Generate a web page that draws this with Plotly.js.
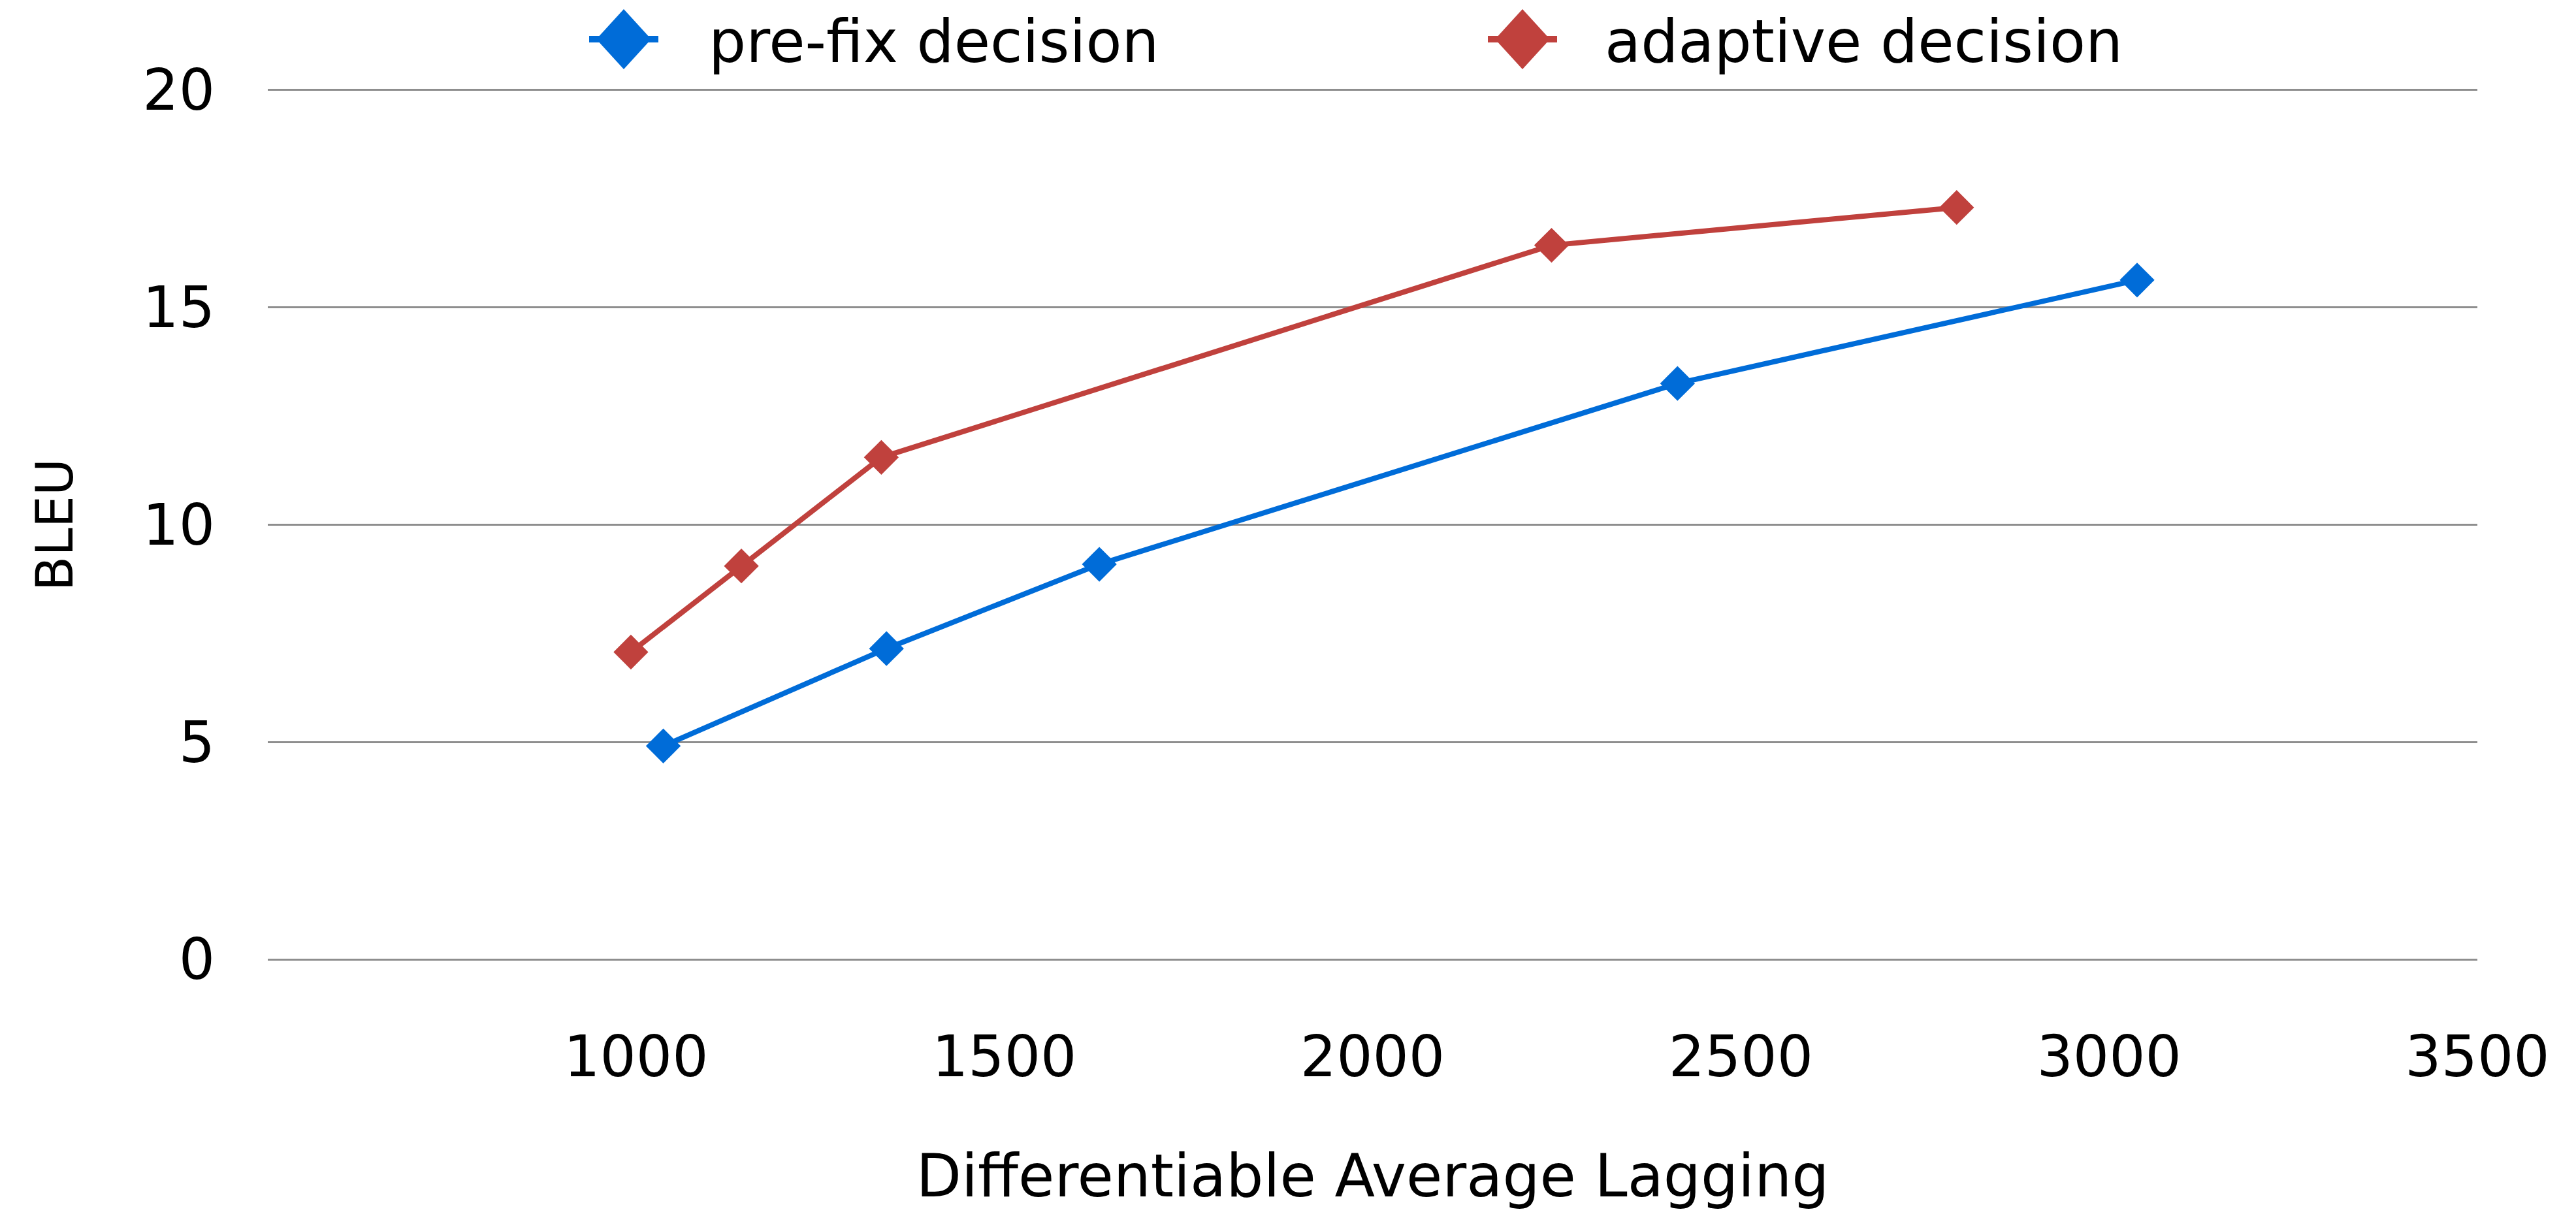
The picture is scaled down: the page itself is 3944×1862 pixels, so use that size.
<!DOCTYPE html>
<html>
<head>
<meta charset="utf-8">
<script src="https://cdn.plot.ly/plotly-3.0.1.min.js"></script>
<style>html,body{margin:0;padding:0;background:#fff;}#chart{width:3944px;height:1862px;}</style>
</head>
<body>
<div id="chart"></div>
<script>
// Data
const prefixDAL  = [1037, 1340, 1629, 2414, 3038];
const prefixBLEU = [4.91, 7.15, 9.09, 13.25, 15.63];
const adaptiveDAL  = [993, 1143, 1333, 2243, 2793];
const adaptiveBLEU = [7.07, 9.05, 11.55, 16.43, 17.30];
const seriesNames = ["pre-fix decision", "adaptive decision"];
const seriesColors = ["#006CD8", "#C0413D"];
const xTickVals = [1000, 1500, 2000, 2500, 3000, 3500];
const yTickVals = [0, 5, 10, 15, 20];

const FONT = "DejaVu Sans";
const W = 3944, H = 1862;
const M = {l: 410, r: 151, t: 135, b: 390};
const PW = W - M.l - M.r, PH = H - M.t - M.b;
const px2x = px => (px - M.l) / PW;
const py2y = py => (H - M.b - py) / PH;

const traces = [
  {x: prefixDAL, y: prefixBLEU, name: seriesNames[0], type: "scatter", mode: "lines+markers",
   line: {color: seriesColors[0], width: 8}, marker: {symbol: "diamond", size: 41, color: seriesColors[0]}},
  {x: adaptiveDAL, y: adaptiveBLEU, name: seriesNames[1], type: "scatter", mode: "lines+markers",
   line: {color: seriesColors[1], width: 8}, marker: {symbol: "diamond", size: 41, color: seriesColors[1]}}
];

// Custom legend (large diamond symbols like the reference)
const legendCenters = [955, 2331];
const legendTextX = [1083, 2455];
const legendY = 60;
const shapes = [], annotations = [];
seriesNames.forEach((name, i) => {
  const cx = legendCenters[i];
  shapes.push({type: "line", xref: "paper", yref: "paper",
    x0: px2x(cx - 53), x1: px2x(cx + 53), y0: py2y(legendY), y1: py2y(legendY),
    line: {color: seriesColors[i], width: 10}});
  shapes.push({type: "path", xref: "paper", yref: "paper",
    path: `M${px2x(cx - 42)},${py2y(legendY)} L${px2x(cx)},${py2y(legendY - 46)} L${px2x(cx + 42)},${py2y(legendY)} L${px2x(cx)},${py2y(legendY + 46)} Z`,
    fillcolor: seriesColors[i], line: {width: 0}});
  annotations.push({xref: "paper", yref: "paper", x: px2x(legendTextX[i]), y: py2y(legendY + 4),
    xanchor: "left", yanchor: "middle", showarrow: false, text: name,
    font: {family: FONT, size: 90, color: "#000"}});
});

const layout = {
  width: W, height: H,
  paper_bgcolor: "#fff", plot_bgcolor: "#fff",
  margin: {l: M.l, r: M.r, t: M.t, b: M.b, pad: 0},
  font: {family: FONT, size: 86, color: "#000"},
  showlegend: false,
  shapes: shapes, annotations: annotations,
  xaxis: {range: [500, 3500], tickmode: "array", tickvals: xTickVals,
          showgrid: false, zeroline: false, showline: false, ticks: "",
          ticklabelstandoff: 88, tickfont: {family: FONT, size: 87},
          title: {text: "Differentiable Average Lagging", font: {family: FONT, size: 90}, standoff: 100}},
  yaxis: {range: [-0.045, 20.045], tickmode: "array", tickvals: yTickVals,
          showgrid: true, gridcolor: "#8e8e8e", gridwidth: 3, zeroline: false, showline: false, ticks: "",
          ticklabelstandoff: 80, tickfont: {family: FONT, size: 87},
          title: {text: "BLEU", font: {family: FONT, size: 78}, standoff: 80}}
};

Plotly.newPlot("chart", traces, layout, {displayModeBar: false, staticPlot: true});
</script>
</body>
</html>
